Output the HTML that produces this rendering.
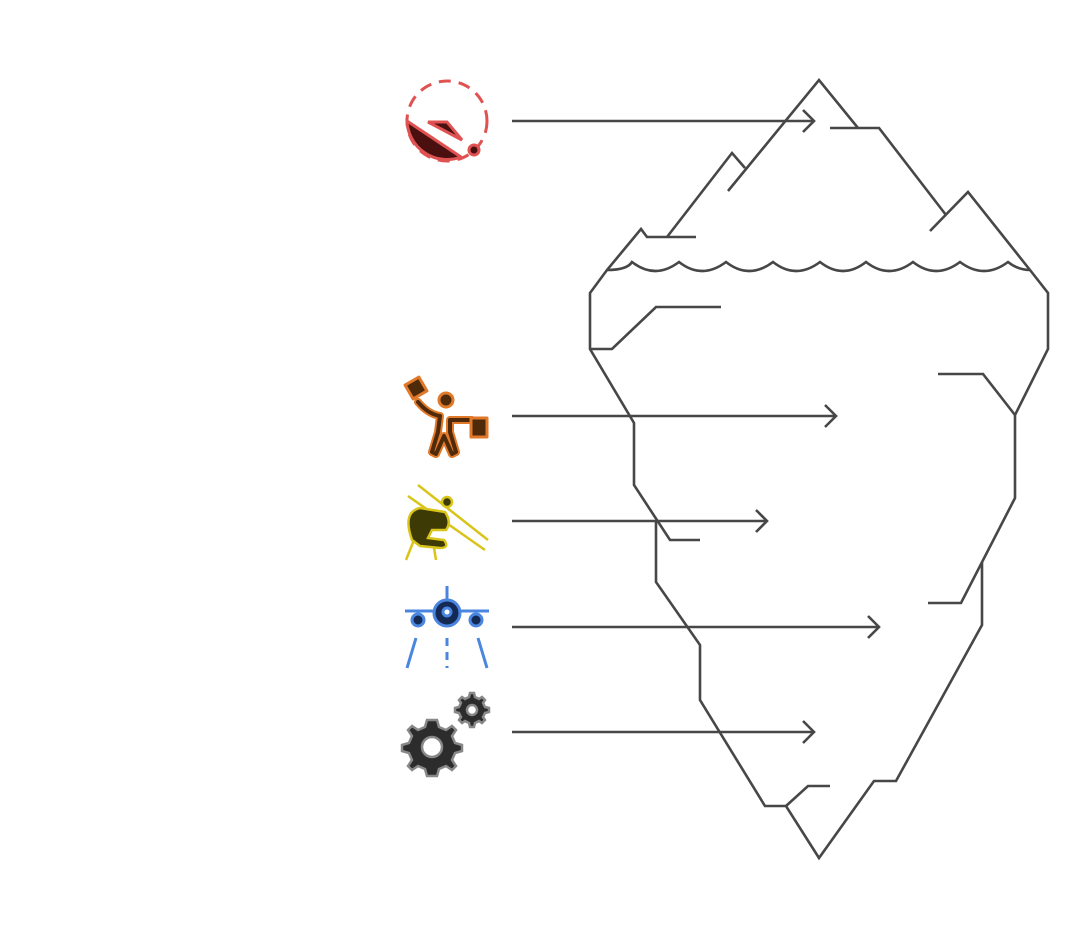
<!DOCTYPE html>
<html><head><style>html,body{margin:0;padding:0;background:#fff}svg{display:block}</style></head>
<body>
<svg width="1082" height="938" viewBox="0 0 1082 938" xmlns="http://www.w3.org/2000/svg">
<g fill="none" stroke="#474747" stroke-width="2.6" stroke-linejoin="miter">
<polyline points="728,191 819,80 858,128"/>
<polyline points="830,128 879,128 946,215"/>
<polyline points="930,231 968,192 1030,270 1048,293 1048,349 1015,415 1015,498 961,603 928,603"/>
<polyline points="938,374 983,374 1015,415"/>
<polyline points="982,562 982,625 896,781 874,781 819,858 786,806 765,806 700,700 700,645 656,582 656,520"/>
<polyline points="786,806 808,786 830,786"/>
<polyline points="700,540 670,540 634,485 634,423 590,349 590,293 607,270 641,229 647,237 696,237"/>
<polyline points="667,237 732,153 745,168"/>
<polyline points="590,349 612,349 656,307 721,307"/>
<path d="M607,270 Q627,270 632,262 Q655,280 679,262 Q702,280 726,262 Q749,280 773,262 Q796,280 820,262 Q843,280 866,262 Q889,280 913,262 Q936,280 960,262 Q984,280 1008,262 Q1018,270 1030,270"/>
<line x1="512" y1="121" x2="813" y2="121"/><polyline points="803,110 814,121 803,132"/>
<line x1="512" y1="416" x2="835" y2="416"/><polyline points="825,405 836,416 825,427"/>
<line x1="512" y1="521" x2="766" y2="521"/><polyline points="756,510 767,521 756,532"/>
<line x1="512" y1="627" x2="878" y2="627"/><polyline points="868,616 879,627 868,638"/>
<line x1="512" y1="732" x2="813" y2="732"/><polyline points="803,721 814,732 803,743"/>
</g>
<!-- icon 1 -->
<g>
<circle cx="447" cy="121" r="40" fill="none" stroke="#e05252" stroke-width="3" stroke-dasharray="12,8"/>
<path d="M407,121 A40,40 0 0 0 461,157 Z" fill="#4a1010" stroke="#e05252" stroke-width="3"/>
<path d="M428,122 L447,122 L462,140 Z" fill="#4a1010" stroke="#e05252" stroke-width="3"/>
<circle cx="474" cy="150" r="5" fill="#4a1010" stroke="#e05252" stroke-width="3"/>
</g>
<!-- icon 2 -->
<g stroke="#e07a2a" stroke-width="3" fill="#4e2a0a" stroke-linejoin="round">
<rect x="408" y="380" width="16" height="16" transform="rotate(-30 416 388)"/>
<circle cx="446" cy="400" r="7"/>
<path d="M418,402 Q428,414 440,416 L438,432 L432,452 L436,454 L444,436 L452,454 L456,452 L450,432 L450,420 L472,420" fill="none" stroke="#e07a2a" stroke-width="8" stroke-linecap="round"/>
<path d="M418,402 Q428,414 440,416 L438,432 L432,452 L436,454 L444,436 L452,454 L456,452 L450,432 L450,420 L472,420" fill="none" stroke="#4e2a0a" stroke-width="4" stroke-linecap="round"/>
<rect x="471" y="418" width="16" height="19"/>
</g>
<!-- icon 3 -->
<g stroke="#d9c41a" stroke-width="2.5" fill="#3e3a06">
<line x1="418" y1="485" x2="488" y2="540"/>
<line x1="408" y1="496" x2="485" y2="550"/>
<circle cx="447" cy="502" r="5"/>
<path d="M412,540 Q402,512 420,508 L445,512 Q452,522 446,530 L432,530 L428,538 L444,540 Q450,548 440,548 L420,546 Z"/>
<line x1="414" y1="540" x2="406" y2="560"/>
<line x1="434" y1="548" x2="436" y2="560"/>
</g>
<!-- icon 4 -->
<g stroke="#4a85e0" stroke-width="3" fill="#142a55">
<line x1="447" y1="586" x2="447" y2="600"/>
<line x1="405" y1="611" x2="489" y2="611"/>
<circle cx="447" cy="613" r="13"/>
<circle cx="447" cy="612" r="4" fill="#fff"/>
<circle cx="418" cy="620" r="6"/>
<circle cx="476" cy="620" r="6"/>
<line x1="416" y1="638" x2="407" y2="668"/>
<line x1="478" y1="638" x2="487" y2="668"/>
<line x1="447" y1="638" x2="447" y2="668" stroke-dasharray="8,6"/>
</g>
<!-- icon 5 -->
<g stroke="#888" stroke-width="2.5" fill="#2c2c2c">
<path d="M432,720 l5,0 l2,7 l7,3 l6,-4 l4,4 l-4,6 l3,7 l7,2 l0,5 l0,1 l-7,2 l-3,7 l4,6 l-4,4 l-6,-4 l-7,3 l-2,7 l-5,0 l-5,0 l-2,-7 l-7,-3 l-6,4 l-4,-4 l4,-6 l-3,-7 l-7,-2 l0,-6 l7,-2 l3,-7 l-4,-6 l4,-4 l6,4 l7,-3 l2,-7 Z"/>
<circle cx="432" cy="747" r="10" fill="#fff"/>
<path d="M470,693 l4,0 l1,4 l4,2 l3,-2 l3,3 l-2,3 l2,4 l4,1 l0,4 l-4,1 l-2,4 l2,3 l-3,3 l-3,-2 l-4,2 l-1,4 l-4,0 l-1,-4 l-4,-2 l-3,2 l-3,-3 l2,-3 l-2,-4 l-4,-1 l0,-4 l4,-1 l2,-4 l-2,-3 l3,-3 l3,2 l4,-2 Z"/>
<circle cx="472" cy="710" r="5" fill="#fff"/>
</g>
</svg>
</body></html>
